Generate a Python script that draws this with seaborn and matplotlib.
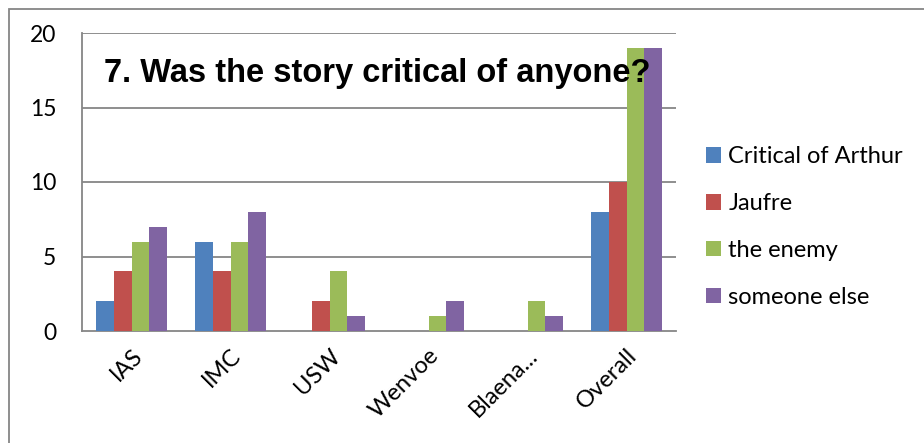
import matplotlib
matplotlib.use("Agg")
import matplotlib.pyplot as plt
from matplotlib.patches import Rectangle, Patch
import seaborn as sns
import pandas as pd

# Survey responses per venue
categories = ["IAS", "IMC", "USW", "Wenvoe", "Blaena...", "Overall"]
series_names = ["Critical of Arthur", "Jaufre", "the enemy", "someone else"]
critical_of_arthur = [2, 6, 0, 0, 0, 8]
jaufre = [4, 4, 2, 0, 0, 10]
the_enemy = [6, 6, 4, 1, 2, 19]
someone_else = [7, 8, 1, 2, 1, 19]
y_ticks = [0, 5, 10, 15, 20]
title_text = "7. Was the story critical of anyone?"

colors = ["#4F81BD", "#C0504D", "#9BBB59", "#8064A2"]
grid_grey = "#868686"

rows = []
for name, vals in zip(series_names,
                      [critical_of_arthur, jaufre, the_enemy, someone_else]):
    for cat, v in zip(categories, vals):
        rows.append({"venue": cat, "answer": name, "count": v})
df = pd.DataFrame(rows)

sns.set_style("white")
plt.rcParams["font.family"] = ["Lato", "DejaVu Sans"]
plt.rcParams["text.color"] = "black"
plt.rcParams["xtick.labelcolor"] = "black"
plt.rcParams["ytick.labelcolor"] = "black"

W, H = 924, 443
fig = plt.figure(figsize=(W / 100, H / 100), dpi=100)
ax = fig.add_axes([82 / W, 1 - 331 / H, 594 / W, 298 / H])

sns.barplot(data=df, x="venue", y="count", hue="answer", order=categories,
            hue_order=series_names, palette=colors, width=0.723, gap=0,
            saturation=1, linewidth=0, ax=ax, legend=False, zorder=3)

ax.set_xlim(-0.5, len(categories) - 0.5)
ax.set_ylim(0, 20)
ax.set_yticks(y_ticks)
ax.set_yticklabels([str(t) for t in y_ticks])
ax.set_xlabel("")
ax.set_ylabel("")

# horizontal gridlines
for t in y_ticks[1:]:
    ax.axhline(t, color=grid_grey, linewidth=1.3, zorder=1)

for s in ["top", "right"]:
    ax.spines[s].set_visible(False)
for s in ["left", "bottom"]:
    ax.spines[s].set_color(grid_grey)
    ax.spines[s].set_linewidth(1.3)

ax.tick_params(axis="y", length=6.5, width=1.3, color=grid_grey, pad=12,
               labelsize=16.5, labelcolor="black")
# category labels centred, tick marks at category boundaries
ax.set_xticks(range(len(categories)))
ax.set_xticklabels(categories, rotation=45, ha="right",
                   rotation_mode="anchor", fontsize=17, color="black")
ax.tick_params(axis="x", which="major", length=0, pad=10)
ax.set_xticks([i - 0.5 for i in range(len(categories) + 1)], minor=True)
ax.tick_params(axis="x", which="minor", length=5, width=1.3, color=grid_grey)

ax.text(0.037, 0.865, title_text, transform=ax.transAxes,
        fontsize=23.5, fontweight="bold", family="Liberation Sans",
        color="black", ha="left", va="center", zorder=5)

handles = [Patch(facecolor=c, edgecolor="none") for c in colors]
fig.legend(handles, series_names, loc="center left",
           bbox_to_anchor=(706 / W, 1 - 227 / H), frameon=False,
           fontsize=17, handlelength=0.64, handleheight=0.64,
           handletextpad=0.3, labelspacing=1.1, borderpad=0,
           borderaxespad=0, labelcolor="black")

# outer chart frame
fig.patches.append(Rectangle((9 / W, -0.1), 1.2, 1 - 9 / H + 0.1,
                             transform=fig.transFigure, fill=False,
                             edgecolor=grid_grey, linewidth=1.3))

fig.savefig("out.png", dpi=100)
